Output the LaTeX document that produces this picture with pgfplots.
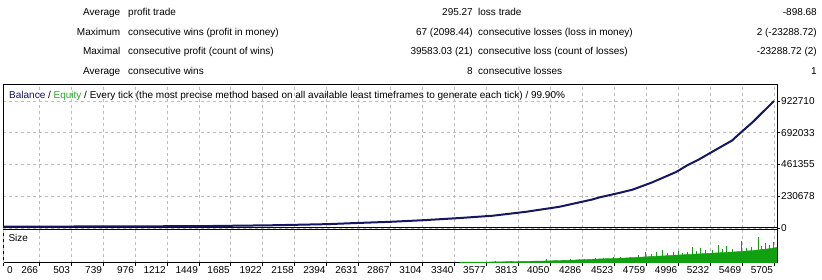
\documentclass[border=0pt]{standalone}
\usepackage{fontspec}
\setmainfont{Liberation Sans}
\usepackage{pgfplots}
\pgfplotsset{compat=1.18}
\definecolor{navy}{RGB}{18,18,96}
\definecolor{balblue}{RGB}{22,22,100}
\definecolor{eqgreen}{RGB}{40,170,40}
\definecolor{sizegreen}{RGB}{16,160,16}
\definecolor{gridgray}{RGB}{190,190,190}
\newcommand{\tf}{\fontsize{10}{12}\selectfont}
\begin{document}
\begin{tikzpicture}[font=\tf]
\useasboundingbox (0pt,0pt) rectangle (822pt,280pt);
% statistics table
\begin{scope}[every node/.style={inner sep=0pt}]
\node[anchor=base east] at (120.5pt,264.5pt) {Average};
\node[anchor=base west] at (128pt,264.5pt) {profit trade};
\node[anchor=base east] at (473pt,264.5pt) {295.27};
\node[anchor=base west] at (478pt,264.5pt) {loss trade};
\node[anchor=base east] at (817pt,264.5pt) {-898.68};
\node[anchor=base east] at (120.5pt,244.8pt) {Maximum};
\node[anchor=base west] at (128pt,244.8pt) {consecutive wins (profit in money)};
\node[anchor=base east] at (473pt,244.8pt) {67 (2098.44)};
\node[anchor=base west] at (478pt,244.8pt) {consecutive losses (loss in money)};
\node[anchor=base east] at (817pt,244.8pt) {2 (-23288.72)};
\node[anchor=base east] at (120.5pt,225.1pt) {Maximal};
\node[anchor=base west] at (128pt,225.1pt) {consecutive profit (count of wins)};
\node[anchor=base east] at (473pt,225.1pt) {39583.03 (21)};
\node[anchor=base west] at (478pt,225.1pt) {consecutive loss (count of losses)};
\node[anchor=base east] at (817pt,225.1pt) {-23288.72 (2)};
\node[anchor=base east] at (120.5pt,205.4pt) {Average};
\node[anchor=base west] at (128pt,205.4pt) {consecutive wins};
\node[anchor=base east] at (473pt,205.4pt) {8};
\node[anchor=base west] at (478pt,205.4pt) {consecutive losses};
\node[anchor=base east] at (817pt,205.4pt) {1};
\end{scope}
% main balance axis
\begin{axis}[
  at={(3pt,52pt)}, anchor=south west, scale only axis,
  width=774pt, height=143pt,
  xmin=0, xmax=5727, ymin=0, ymax=1039000,
  axis line style={black, line width=1pt},
  xtick={0,266,503,739,976,1212,1449,1685,1922,2158,2394,2631,2867,3104,3340,3577,3813,4050,4286,4523,4759,4996,5232,5469,5705},
  xticklabel=\empty, xtick style={draw=none},
  ytick={0,230678,461355,692033,922710},
  yticklabels={0,230678,461355,692033,922710},
  ytick pos=right, yticklabel pos=right,
  tick align=outside, major tick length=3pt,
  ytick style={black, line width=0.6pt},
  yticklabel style={font=\tf, anchor=west, inner sep=1pt},
  grid=major, grid style={gridgray, line width=0.6pt, dash pattern=on 3pt off 3pt},
  scaled y ticks=false,
]
\addplot[balblue, line width=2pt, mark=none] coordinates {
(0,10000) (500,10800) (1000,12000) (1500,13800) (1630,15500) (1800,17500)
(2000,20000) (2180,23500) (2400,28000) (2505,32000) (2638,37000) (2882,45600)
(3133,57800) (3377,72300) (3621,89000) (3872,118000) (4116,154000) (4360,207000)
(4412,222000) (4560,255000) (4656,278000) (4800,330000) (4981,407000) (5062,455000)
(5151,499000) (5250,555000) (5395,636000) (5430,668000) (5469,702000) (5550,772000)
(5630,850000) (5705,922710)
};
\node[anchor=base west, inner sep=0pt, font=\tf] at (rel axis cs:0,1) [xshift=6pt, yshift=-13.6pt]
  {\textcolor{navy}{Balance} / \textcolor{eqgreen}{Equity} / Every tick (the most precise method based on all available least timeframes to generate each tick) / 99.90\%};
\end{axis}
% size axis
\begin{axis}[
  at={(3pt,17pt)}, anchor=south west, scale only axis,
  width=774pt, height=33pt,
  xmin=0, xmax=5727, ymin=0, ymax=33,
  axis line style={black, line width=1pt},
  xtick={266,503,739,976,1212,1449,1685,1922,2158,2394,2631,2867,3104,3340,3577,3813,4050,4286,4523,4759,4996,5232,5469,5705},
  xticklabels={266,503,739,976,1212,1449,1685,1922,2158,2394,2631,2867,3104,3340,3577,3813,4050,4286,4523,4759,4996,5232,5469,5705},
  extra x ticks={0}, extra x tick labels={0},
  extra x tick style={xticklabel style={anchor=north west, xshift=3pt}},
  ytick=\empty,
  xtick pos=bottom, tick align=outside, major tick length=3pt,
  xtick style={black, line width=0.6pt},
  xticklabel style={font=\tf, anchor=north east, inner sep=0.8pt},
  xmajorgrids, grid style={gridgray, line width=0.6pt, dash pattern=on 3pt off 3pt},
]
\addplot[fill=sizegreen, draw=sizegreen, line width=0.4pt, mark=none] coordinates {
(3380,0.8) (3600,1.0) (3800,1.5) (4000,2.0) (4200,2.8) (4400,4.0) (4600,5.0)
(4800,6.5) (5000,8.0) (5200,9.5) (5400,11.0) (5550,12.5) (5650,14.0) (5727,15.5)
} \closedcycle;
\addplot[ycomb, sizegreen, line width=0.9pt, mark=none] coordinates {
(3640,1.8) (3760,2.0) (3900,2.4) (4023,3.7) (4144,3.3) (4200,3.6) (4262,4.0)
(4300,4.2) (4380,4.6) (4440,5.3) (4520,5.6) (4565,6.0) (4640,6.4) (4700,7.6)
(4755,10.7) (4800,8.6) (4837,11.3) (4878,13.3) (4920,9.6) (4960,10.5) (5000,11.5)
(5030,10.2) (5061,11.0) (5105,15.7) (5130,12.0) (5157,15.0) (5200,12.5) (5250,13.0)
(5293,18.0) (5320,13.5) (5355,17.3) (5400,14.0) (5466,22.0) (5500,15.0) (5540,15.6)
(5589,25.7) (5610,17.0) (5638,20.0) (5670,17.5) (5700,20.7)
};
\node[anchor=base west, inner sep=0pt, font=\tf] at (rel axis cs:0,1) [xshift=5.3pt, yshift=-12pt] {Size};
\end{axis}
\end{tikzpicture}
\end{document}
